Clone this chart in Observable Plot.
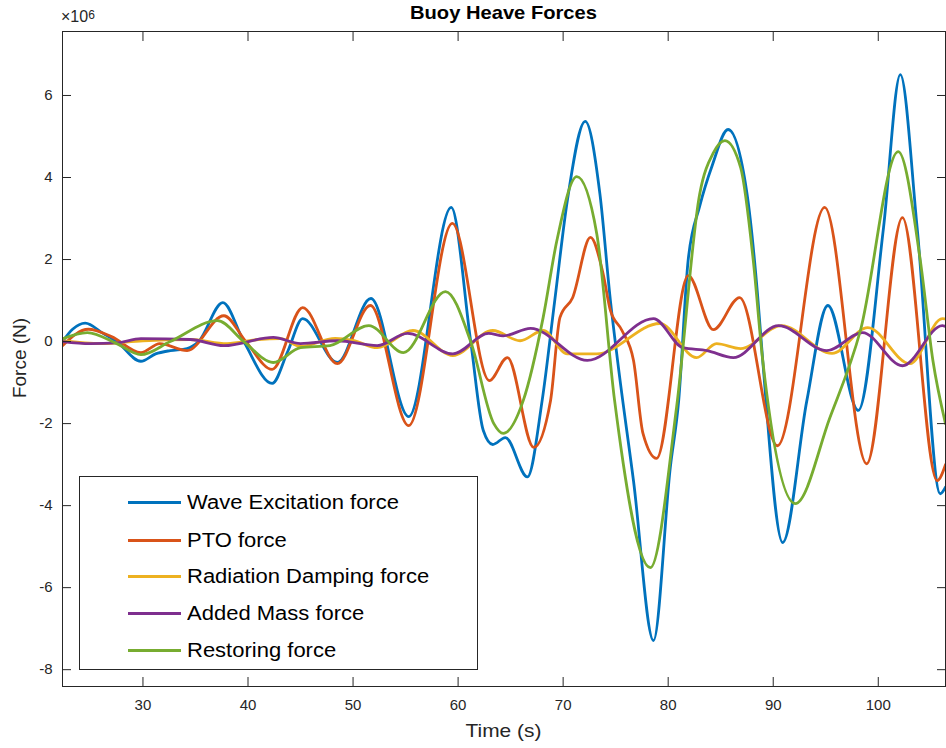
<!DOCTYPE html>
<html>
<head>
<meta charset="utf-8">
<script src="https://cdn.jsdelivr.net/npm/d3@7"></script>
<script src="https://cdn.jsdelivr.net/npm/@observablehq/plot@0.6"></script>
<style>
  html, body { margin: 0; padding: 0; background: #fff; }
  #wrap { position: relative; width: 946px; height: 748px; font-family: "Liberation Sans", Arial, Helvetica, sans-serif; color: #262626; }
  .ov { position: absolute; white-space: nowrap; }
  #title { left: 62px; width: 883px; top: 2px; text-align: center; font-weight: bold; font-size: 19px; color: #000; transform: scaleX(1.06); }
  #expo { left: 61px; top: 8px; font-size: 16px; color: #262626; }
  #expo sup { font-size: 12px; position: relative; top: -3px; vertical-align: baseline; }
  #xlabel { left: 62px; width: 883px; top: 720px; text-align: center; font-size: 19px; transform: scaleX(1.1); }
  #ylabel { left: 20px; top: 358px; font-size: 19px; transform: translate(-50%, -50%) rotate(-90deg); }
  #legend { position: absolute; left: 79px; top: 476px; width: 397px; height: 192px; border: 1px solid #262626; background: #fff; }
  .row { position: absolute; left: 0; height: 24px; display: flex; align-items: center; font-size: 20px; color: #000; }
  .sw { width: 53px; height: 3px; margin-left: 48px; margin-right: 6px; }
  .row span { display: inline-block; transform: scaleX(1.1); transform-origin: left center; }
</style>
</head>
<body>
<div id="wrap"></div>
<script>
// Time (s) and force (x10^6 N) samples
const waveT = [22.34, 23.3, 24.5, 26.2, 27.5, 29.8, 31.2, 32.6, 34.2, 35.3, 37.6, 39.6, 42.3, 43.8, 45.2, 48.5, 51.7, 55.3, 59.35, 61.2, 62.4, 63.3, 64.5, 66.6, 68.0, 69.2, 70.4, 72.1, 73.5, 74.5, 75.2, 76.7, 78.6, 80.2, 81.0, 81.9, 83.0, 84.2, 85.7, 87.5, 88.5, 89.0, 90.9, 93.2, 95.2, 98.1, 100.5, 102.1, 103.7, 105.9, 106.4];
const waveF = [0.0, 0.3, 0.45, 0.2, 0.0, -0.48, -0.3, -0.22, -0.17, 0.0, 0.95, 0.0, -1.02, -0.23, 0.56, -0.51, 1.05, -1.83, 3.27, 0.0, -2.17, -2.51, -2.34, -3.3, -1.44, 1.0, 3.44, 5.37, 3.6, 1.0, -0.5, -3.4, -7.29, -3.07, -1.44, 1.98, 3.3, 4.3, 5.17, 3.61, 1.17, -0.46, -4.9, -1.44, 0.88, -1.68, 2.78, 6.51, 2.78, -3.71, -3.55];

const ptoT = [22.34, 24.8, 27.0, 29.8, 31.6, 34.2, 37.7, 39.8, 42.3, 45.2, 48.5, 51.65, 55.3, 59.45, 62.97, 64.7, 67.2, 68.8, 69.7, 70.9, 72.6, 73.8, 74.5, 75.6, 76.7, 77.6, 78.9, 81.9, 84.3, 86.8, 90.4, 94.9, 98.9, 102.3, 105.6, 106.4];
const ptoF = [-0.1, 0.3, 0.12, -0.27, -0.05, -0.22, 0.63, 0.0, -0.68, 0.83, -0.54, 0.88, -2.05, 2.88, -0.95, -0.39, -2.58, -1.44, 0.59, 1.07, 2.54, 1.66, 0.76, 0.27, -0.46, -2.24, -2.85, 1.61, 0.29, 1.07, -2.54, 3.27, -2.98, 3.02, -3.39, -3.0];

const radT = [22.34, 26.0, 30.0, 34.5, 38.0, 41.0, 43.1, 45.0, 48.3, 50.0, 52.3, 55.7, 59.5, 63.3, 65.9, 68.1, 70.4, 73.2, 79.2, 82.7, 84.6, 86.9, 90.8, 95.6, 99.0, 103.0, 106.1, 106.4];
const radF = [0.02, -0.05, 0.02, 0.05, -0.05, 0.05, 0.07, -0.12, 0.08, 0.03, -0.15, 0.27, -0.34, 0.27, 0.02, 0.27, -0.3, -0.3, 0.44, -0.39, -0.05, -0.17, 0.39, -0.29, 0.34, -0.54, 0.56, 0.55];

const massT = [22.34, 25.0, 27.5, 29.8, 34.5, 37.7, 42.4, 45.0, 48.5, 52.3, 55.2, 59.5, 62.9, 64.3, 66.9, 72.3, 78.6, 81.4, 83.7, 86.2, 90.5, 95.1, 98.5, 102.3, 106.1, 106.4];
const massF = [0.0, -0.05, -0.03, 0.07, 0.05, -0.1, 0.1, -0.05, 0.02, -0.1, 0.2, -0.3, 0.2, 0.14, 0.32, -0.46, 0.56, -0.15, -0.22, -0.39, 0.39, -0.22, 0.22, -0.59, 0.39, 0.37];

const restT = [22.34, 24.7, 27.5, 29.8, 32.6, 37.1, 39.6, 42.4, 45.0, 47.8, 51.5, 54.8, 58.8, 61.2, 63.4, 64.3, 66.2, 68.1, 69.4, 71.3, 73.2, 74.9, 78.3, 80.8, 83.0, 84.3, 85.4, 86.9, 88.1, 89.0, 92.1, 95.4, 98.3, 101.9, 104.0, 105.2, 106.4];
const restF = [0.07, 0.22, -0.05, -0.32, 0.0, 0.51, 0.0, -0.51, -0.15, -0.1, 0.39, -0.27, 1.22, 0.0, -2.0, -2.24, -1.44, 0.59, 2.46, 4.02, 2.63, -1.44, -5.51, -1.6, 3.6, 4.6, 4.9, 4.24, 1.98, -0.46, -3.95, -1.85, 0.27, 4.63, 1.98, -0.46, -2.0];

const seriesNames = ["Wave Excitation force", "PTO force", "Radiation Damping force", "Added Mass force", "Restoring force"];
const seriesColors = ["#0072BD", "#D95319", "#EDB120", "#7E2F8E", "#77AC30"];
const xTicks = [30, 40, 50, 60, 70, 80, 90, 100];
const yTicks = [-8, -6, -4, -2, 0, 2, 4, 6];
const xDomain = [22.34, 106.4];
const yDomain = [-8.41, 7.56];

const seriesT = [waveT, ptoT, radT, massT, restT];
const seriesF = [waveF, ptoF, radF, massF, restF];
const tables = seriesT.map((ts, i) => ts.map((t, j) => ({t, f: seriesF[i][j]})));
const hyphenFmt = d => String(d);

const chart = Plot.plot({
  width: 946,
  height: 748,
  marginLeft: 62,
  marginRight: 1,
  marginTop: 31,
  marginBottom: 62,
  x: {domain: xDomain},
  y: {domain: yDomain},
  style: {fontFamily: '"Liberation Sans", Arial, Helvetica, sans-serif', fontSize: "15px", color: "#262626", background: "#fff", overflow: "visible"},
  marks: [
    ...tables.map((data, i) => Plot.line(data, {x: "t", y: "f", stroke: seriesColors[i], strokeWidth: 2.8, curve: "monotone-x", clip: true})),
    Plot.frame({stroke: "#262626", strokeWidth: 1}),
    Plot.axisX(xTicks, {anchor: "bottom", tickSize: -9, tickPadding: 22, tickFormat: hyphenFmt, label: null}),
    Plot.axisX(xTicks, {anchor: "top", tickSize: -9, tickFormat: () => "", label: null}),
    Plot.axisY(yTicks, {anchor: "left", tickSize: -9, tickPadding: 19, tickFormat: hyphenFmt, label: null}),
    Plot.axisY(yTicks, {anchor: "right", tickSize: -9, tickFormat: () => "", label: null})
  ]
});

const wrap = document.getElementById("wrap");
wrap.appendChild(chart);

function addDiv(id, html) {
  const d = document.createElement("div");
  d.className = "ov";
  d.id = id;
  d.innerHTML = html;
  wrap.appendChild(d);
  return d;
}
addDiv("title", "Buoy Heave Forces");
addDiv("expo", "×10<sup>6</sup>");
addDiv("xlabel", "Time (s)");
addDiv("ylabel", "Force (N)");

const legend = document.createElement("div");
legend.id = "legend";
const rowCenters = [25, 63, 99, 136, 173];
seriesNames.forEach((name, i) => {
  const r = document.createElement("div");
  r.className = "row";
  r.style.top = (rowCenters[i] - 12) + "px";
  const sw = document.createElement("div");
  sw.className = "sw";
  sw.style.background = seriesColors[i];
  const tx = document.createElement("span");
  tx.textContent = name;
  r.appendChild(sw);
  r.appendChild(tx);
  legend.appendChild(r);
});
wrap.appendChild(legend);
</script>
</body>
</html>
